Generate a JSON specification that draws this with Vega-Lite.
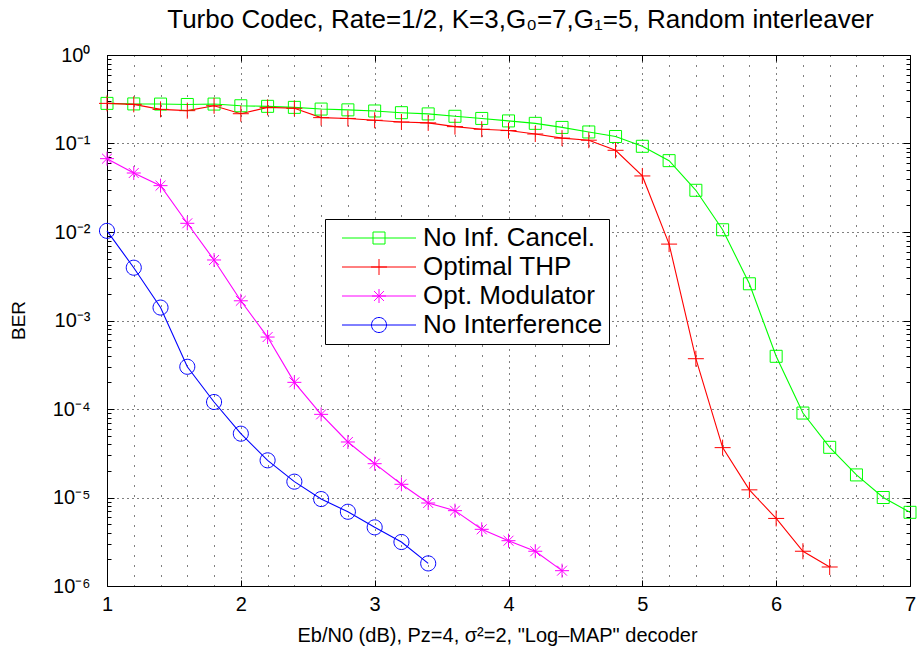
{
  "$schema": "https://vega.github.io/schema/vega-lite/v6.json",
  "width": 803,
  "height": 531,
  "autosize": "none",
  "padding": {"left": 107, "top": 55, "right": 9, "bottom": 73},
  "background": "white",
  "title": {"text": "Turbo Codec, Rate=1/2, K=3,G₀=7,G₁=5, Random interleaver", "fontSize": 26, "fontWeight": "normal", "color": "black", "font": "Liberation Sans", "anchor": "middle", "dx": 12, "offset": 12},
  "config": {
    "font": "Liberation Sans",
    "view": {"stroke": "black", "strokeWidth": 1},
    "axis": {"domain": false, "labelColor": "black", "tickColor": "black", "titleColor": "black", "labelFont": "Liberation Sans", "titleFont": "Liberation Sans", "titleFontWeight": "normal"}
  },
  "data": {"values": [
    {"s": "No Inf. Cancel.", "x": 1.0, "y": 0.284},
    {"s": "No Inf. Cancel.", "x": 1.2, "y": 0.28},
    {"s": "No Inf. Cancel.", "x": 1.4, "y": 0.279},
    {"s": "No Inf. Cancel.", "x": 1.6, "y": 0.276},
    {"s": "No Inf. Cancel.", "x": 1.8, "y": 0.279},
    {"s": "No Inf. Cancel.", "x": 2.0, "y": 0.267},
    {"s": "No Inf. Cancel.", "x": 2.2, "y": 0.263},
    {"s": "No Inf. Cancel.", "x": 2.4, "y": 0.256},
    {"s": "No Inf. Cancel.", "x": 2.6, "y": 0.245},
    {"s": "No Inf. Cancel.", "x": 2.8, "y": 0.24},
    {"s": "No Inf. Cancel.", "x": 3.0, "y": 0.233},
    {"s": "No Inf. Cancel.", "x": 3.2, "y": 0.223},
    {"s": "No Inf. Cancel.", "x": 3.4, "y": 0.216},
    {"s": "No Inf. Cancel.", "x": 3.6, "y": 0.203},
    {"s": "No Inf. Cancel.", "x": 3.8, "y": 0.192},
    {"s": "No Inf. Cancel.", "x": 4.0, "y": 0.18},
    {"s": "No Inf. Cancel.", "x": 4.2, "y": 0.169},
    {"s": "No Inf. Cancel.", "x": 4.4, "y": 0.152},
    {"s": "No Inf. Cancel.", "x": 4.6, "y": 0.135},
    {"s": "No Inf. Cancel.", "x": 4.8, "y": 0.12},
    {"s": "No Inf. Cancel.", "x": 5.0, "y": 0.093},
    {"s": "No Inf. Cancel.", "x": 5.2, "y": 0.064},
    {"s": "No Inf. Cancel.", "x": 5.4, "y": 0.0296},
    {"s": "No Inf. Cancel.", "x": 5.6, "y": 0.0106},
    {"s": "No Inf. Cancel.", "x": 5.8, "y": 0.0026},
    {"s": "No Inf. Cancel.", "x": 6.0, "y": 0.000394},
    {"s": "No Inf. Cancel.", "x": 6.2, "y": 0.00009},
    {"s": "No Inf. Cancel.", "x": 6.4, "y": 0.0000369},
    {"s": "No Inf. Cancel.", "x": 6.6, "y": 0.000018},
    {"s": "No Inf. Cancel.", "x": 6.8, "y": 0.00001},
    {"s": "No Inf. Cancel.", "x": 7.0, "y": 0.0000068},
    {"s": "Optimal THP", "x": 1.0, "y": 0.284},
    {"s": "Optimal THP", "x": 1.2, "y": 0.277},
    {"s": "Optimal THP", "x": 1.4, "y": 0.243},
    {"s": "Optimal THP", "x": 1.6, "y": 0.235},
    {"s": "Optimal THP", "x": 1.8, "y": 0.267},
    {"s": "Optimal THP", "x": 2.0, "y": 0.217},
    {"s": "Optimal THP", "x": 2.2, "y": 0.256},
    {"s": "Optimal THP", "x": 2.4, "y": 0.25},
    {"s": "Optimal THP", "x": 2.6, "y": 0.196},
    {"s": "Optimal THP", "x": 2.8, "y": 0.192},
    {"s": "Optimal THP", "x": 3.0, "y": 0.183},
    {"s": "Optimal THP", "x": 3.2, "y": 0.175},
    {"s": "Optimal THP", "x": 3.4, "y": 0.171},
    {"s": "Optimal THP", "x": 3.6, "y": 0.155},
    {"s": "Optimal THP", "x": 3.8, "y": 0.145},
    {"s": "Optimal THP", "x": 4.0, "y": 0.14},
    {"s": "Optimal THP", "x": 4.2, "y": 0.128},
    {"s": "Optimal THP", "x": 4.4, "y": 0.115},
    {"s": "Optimal THP", "x": 4.6, "y": 0.109},
    {"s": "Optimal THP", "x": 4.8, "y": 0.0838},
    {"s": "Optimal THP", "x": 5.0, "y": 0.043},
    {"s": "Optimal THP", "x": 5.2, "y": 0.0073},
    {"s": "Optimal THP", "x": 5.4, "y": 0.00037},
    {"s": "Optimal THP", "x": 5.6, "y": 0.0000366},
    {"s": "Optimal THP", "x": 5.8, "y": 0.0000122},
    {"s": "Optimal THP", "x": 6.0, "y": 0.0000058},
    {"s": "Optimal THP", "x": 6.2, "y": 0.00000247},
    {"s": "Optimal THP", "x": 6.4, "y": 0.00000164},
    {"s": "Opt. Modulator", "x": 1.0, "y": 0.0674},
    {"s": "Opt. Modulator", "x": 1.2, "y": 0.0464},
    {"s": "Opt. Modulator", "x": 1.4, "y": 0.0334},
    {"s": "Opt. Modulator", "x": 1.6, "y": 0.01254},
    {"s": "Opt. Modulator", "x": 1.8, "y": 0.00483},
    {"s": "Opt. Modulator", "x": 2.0, "y": 0.00167},
    {"s": "Opt. Modulator", "x": 2.2, "y": 0.00065},
    {"s": "Opt. Modulator", "x": 2.4, "y": 0.0002},
    {"s": "Opt. Modulator", "x": 2.6, "y": 0.000087},
    {"s": "Opt. Modulator", "x": 2.8, "y": 0.0000424},
    {"s": "Opt. Modulator", "x": 3.0, "y": 0.0000241},
    {"s": "Opt. Modulator", "x": 3.2, "y": 0.0000141},
    {"s": "Opt. Modulator", "x": 3.4, "y": 0.00000867},
    {"s": "Opt. Modulator", "x": 3.6, "y": 0.0000071},
    {"s": "Opt. Modulator", "x": 3.8, "y": 0.00000437},
    {"s": "Opt. Modulator", "x": 4.0, "y": 0.00000325},
    {"s": "Opt. Modulator", "x": 4.2, "y": 0.00000247},
    {"s": "Opt. Modulator", "x": 4.4, "y": 0.00000149},
    {"s": "No Interference", "x": 1.0, "y": 0.0103},
    {"s": "No Interference", "x": 1.2, "y": 0.00395},
    {"s": "No Interference", "x": 1.4, "y": 0.0014},
    {"s": "No Interference", "x": 1.6, "y": 0.0003},
    {"s": "No Interference", "x": 1.8, "y": 0.00012},
    {"s": "No Interference", "x": 2.0, "y": 0.0000526},
    {"s": "No Interference", "x": 2.2, "y": 0.0000263},
    {"s": "No Interference", "x": 2.4, "y": 0.0000151},
    {"s": "No Interference", "x": 2.6, "y": 0.0000096},
    {"s": "No Interference", "x": 2.8, "y": 0.0000069},
    {"s": "No Interference", "x": 3.0, "y": 0.0000046},
    {"s": "No Interference", "x": 3.2, "y": 0.00000314},
    {"s": "No Interference", "x": 3.4, "y": 0.0000018}
  ]},
  "resolve": {"axis": {"x": "independent", "y": "independent"}, "scale": {"shape": "independent"}, "legend": {"color": "independent", "shape": "independent"}},
  "layer": [
    {
      "mark": {"type": "line", "strokeWidth": 1.1},
      "encoding": {
        "x": {"field": "x", "type": "quantitative", "scale": {"domain": [1, 7], "nice": false, "zero": false},
          "axis": {"title": "Eb/N0 (dB),  Pz=4, σ²=2, \"Log–MAP\" decoder", "titleFontSize": 20, "titlePadding": 11, "titleX": 390, "titleAlign": "center",
            "values": [1,1.2,1.4,1.6,1.8,2,2.2,2.4,2.6,2.8,3,3.2,3.4,3.6,3.8,4,4.2,4.4,4.6,4.8,5,5.2,5.4,5.6,5.8,6,6.2,6.4,6.6,6.8,7],
            "labelExpr": "abs(datum.value - round(datum.value)) < 0.001 ? format(datum.value, 'd') : ''",
            "labelFontSize": 20, "labelPadding": 14, "labelFlush": false,
            "tickSize": -6,
            "tickOpacity": {"condition": {"test": "abs(datum.value - round(datum.value)) < 0.001", "value": 1}, "value": 0},
            "grid": true, "gridColor": "black", "gridOpacity": 1,
            "gridDash": {"condition": {"test": "abs(datum.value - round(datum.value)) < 0.001", "value": [1, 5]}, "value": [1, 9]}
          }},
        "y": {"field": "y", "type": "quantitative", "scale": {"type": "log", "domain": [0.000001, 1], "nice": false},
          "axis": {"title": "BER", "titleFontSize": 19, "titleX": -89, "titleY": 265, "titleAlign": "center", "titleBaseline": "middle", "titleAngle": -90,
            "values": [1,0.9,0.8,0.7,0.6,0.5,0.4,0.3,0.2,0.1,0.09,0.08,0.07,0.06,0.05,0.04,0.03,0.02,0.01,0.009,0.008,0.007,0.006,0.005,0.004,0.003,0.002,0.001,0.0009,0.0008,0.0007,0.0006,0.0005,0.0004,0.0003,0.0002,0.0001,0.00009,0.00008,0.00007,0.00006,0.00005,0.00004,0.00003,0.00002,0.00001,0.000009,0.000008,0.000007,0.000006,0.000005,0.000004,0.000003,0.000002,0.000001],
            "labelExpr": "abs(log(datum.value)/LN10 - round(log(datum.value)/LN10)) < 0.001 ? ['10⁰','10⁻¹','10⁻²','10⁻³','10⁻⁴','10⁻⁵','10⁻⁶'][-round(log(datum.value)/LN10)] : ''",
            "labelFontSize": 20, "labelPadding": 24, "labelBaseline": "middle",
            "tickSize": {"condition": {"test": "abs(log(datum.value)/LN10 - round(log(datum.value)/LN10)) < 0.001", "value": -7}, "value": -4},
            "grid": true, "gridColor": "black",
            "gridOpacity": {"condition": {"test": "abs(log(datum.value)/LN10 - round(log(datum.value)/LN10)) < 0.001", "value": 1}, "value": 0},
            "gridDash": [1, 4]
          }},
        "color": {"field": "s", "type": "nominal",
          "scale": {"domain": ["No Inf. Cancel.", "Optimal THP", "Opt. Modulator", "No Interference"], "range": ["#00ff00", "#ff0000", "#ff00ff", "#0000ff"]},
          "legend": null}
      }
    },
    {
      "mark": {"type": "point", "filled": false, "opacity": 1, "strokeWidth": 1, "size": 256},
      "encoding": {
        "x": {"field": "x", "type": "quantitative", "scale": {"domain": [1, 7], "nice": false, "zero": false}, "axis": null},
        "y": {"field": "y", "type": "quantitative", "scale": {"type": "log", "domain": [0.000001, 1], "nice": false}, "axis": null},
        "color": {"field": "s", "type": "nominal",
          "scale": {"domain": ["No Inf. Cancel.", "Optimal THP", "Opt. Modulator", "No Interference"], "range": ["#00ff00", "#ff0000", "#ff00ff", "#0000ff"]},
          "legend": null},
        "shape": {"field": "s", "type": "nominal",
          "scale": {"domain": ["No Inf. Cancel.", "Optimal THP", "Opt. Modulator", "No Interference"],
            "range": ["M-0.75,-0.75H0.75V0.75H-0.75Z", "M-1,0H1M0,-1V1", "M-0.875,0H0.875M0,-0.875V0.875M-0.62,-0.62L0.62,0.62M-0.62,0.62L0.62,-0.62", "M-0.94,0A0.94,0.94 0 1,0 0.94,0A0.94,0.94 0 1,0 -0.94,0Z"]},
          "legend": null}
      }
    },
    {
      "mark": {"type": "point", "opacity": 0, "filled": false, "strokeWidth": 1, "size": 256},
      "encoding": {
        "x": {"field": "x", "type": "quantitative", "scale": {"domain": [1, 7], "nice": false, "zero": false},
          "axis": {"orient": "top", "title": null, "labels": false, "grid": false, "values": [1, 2, 3, 4, 5, 6, 7], "tickSize": -6}},
        "y": {"field": "y", "type": "quantitative", "scale": {"type": "log", "domain": [0.000001, 1], "nice": false},
          "axis": {"orient": "right", "title": null, "labels": false, "grid": false,
            "values": [1,0.9,0.8,0.7,0.6,0.5,0.4,0.3,0.2,0.1,0.09,0.08,0.07,0.06,0.05,0.04,0.03,0.02,0.01,0.009,0.008,0.007,0.006,0.005,0.004,0.003,0.002,0.001,0.0009,0.0008,0.0007,0.0006,0.0005,0.0004,0.0003,0.0002,0.0001,0.00009,0.00008,0.00007,0.00006,0.00005,0.00004,0.00003,0.00002,0.00001,0.000009,0.000008,0.000007,0.000006,0.000005,0.000004,0.000003,0.000002,0.000001],
            "tickSize": {"condition": {"test": "abs(log(datum.value)/LN10 - round(log(datum.value)/LN10)) < 0.001", "value": -7}, "value": -4}}},
        "color": {"field": "s", "type": "nominal",
          "scale": {"domain": ["No Inf. Cancel.", "Optimal THP", "Opt. Modulator", "No Interference"], "range": ["#00ff00", "#ff0000", "#ff00ff", "#0000ff"]},
          "legend": {"orient": "none", "legendX": 218, "legendY": 164, "title": null, "symbolSize": 256, "labelOffset": 66, "labelLimit": 400, "labelFontSize": 26, "labelFont": "Liberation Sans", "labelColor": "black", "strokeColor": "black", "fillColor": "white", "padding": 6, "rowPadding": 3, "symbolStrokeWidth": 1, "symbolOpacity": 1, "symbolFillColor": "transparent"}},
        "shape": {"field": "s", "type": "nominal",
          "scale": {"domain": ["No Inf. Cancel.", "Optimal THP", "Opt. Modulator", "No Interference"],
            "range": ["M-0.25,0H9M3.625,-0.75H5.125V0.75H3.625Z", "M-0.25,0H9M3.375,0H5.375M4.375,-1V1", "M-0.25,0H9M3.5,0H5.25M4.375,-0.875V0.875M3.755,-0.62L4.995,0.62M3.755,0.62L4.995,-0.62", "M-0.25,0H9M3.435,0A0.94,0.94 0 1,0 5.315,0A0.94,0.94 0 1,0 3.435,0Z"]},
          "legend": {"orient": "none", "legendX": 218, "legendY": 164, "title": null, "symbolSize": 256, "labelOffset": 66, "labelLimit": 400, "labelFontSize": 26, "labelFont": "Liberation Sans", "labelColor": "black", "strokeColor": "black", "fillColor": "white", "padding": 6, "rowPadding": 3, "symbolStrokeWidth": 1, "symbolOpacity": 1, "symbolFillColor": "transparent"}}
      }
    }
  ]
}
